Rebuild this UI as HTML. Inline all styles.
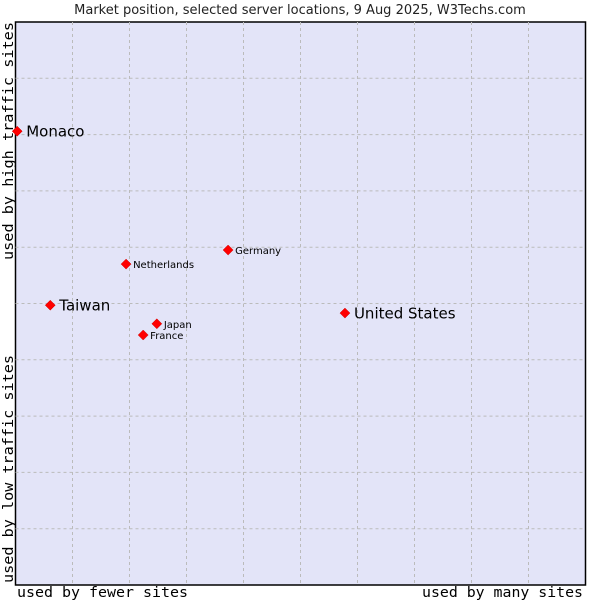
<!DOCTYPE html>
<html><head><meta charset="utf-8"><style>
body{margin:0;background:#fff;width:600px;height:600px;overflow:hidden}
svg{display:block}
</style></head><body>
<svg id="chart" width="600" height="600" xmlns="http://www.w3.org/2000/svg">
<text x="300" y="14" text-anchor="middle" font-family="DejaVu Sans, sans-serif" font-size="13" fill="#222">Market position, selected server locations, 9 Aug 2025, W3Techs.com</text>
<rect x="15.5" y="22" width="570" height="563" fill="#e3e4f8" stroke="#000" stroke-width="1.5"/>
<g id="grid"></g>
<g id="points"></g>
<text x="17" y="597" textLength="171" lengthAdjust="spacingAndGlyphs" font-family="DejaVu Sans Mono, monospace" font-size="14.5" fill="#000">used by fewer sites</text>
<text x="422" y="597" textLength="161" lengthAdjust="spacingAndGlyphs" font-family="DejaVu Sans Mono, monospace" font-size="14.5" fill="#000">used by many sites</text>
<text transform="translate(13,583) rotate(-90)" textLength="228" lengthAdjust="spacingAndGlyphs" font-family="DejaVu Sans Mono, monospace" font-size="14.5" fill="#000">used by low traffic sites</text>
<text transform="translate(13,260) rotate(-90)" textLength="238" lengthAdjust="spacingAndGlyphs" font-family="DejaVu Sans Mono, monospace" font-size="14.5" fill="#000">used by high traffic sites</text>
</svg>
<script>
const countries=["Monaco","Taiwan","United States","Netherlands","Germany","Japan","France"];
const xValues=[0.3,6.1,57.8,19.4,37.3,24.8,22.4];
const yValues=[80.6,49.7,48.3,57.0,59.5,46.4,44.4];
const bigLabel=[true,true,true,false,false,false,false];
const gridTicks=[10,20,30,40,50,60,70,80,90];
const L=15.5,R=585.5,T=22,B=585;
const xs=v=>L+(R-L)*v/100, ys=v=>B-(B-T)*v/100;
const NS="http://www.w3.org/2000/svg";
const grid=document.getElementById('grid'), pts=document.getElementById('points');
gridTicks.forEach(t=>{
 let v=document.createElementNS(NS,'line');
 v.setAttribute('x1',xs(t));v.setAttribute('x2',xs(t));v.setAttribute('y1',T);v.setAttribute('y2',B);
 v.setAttribute('stroke','#bbb');v.setAttribute('stroke-dasharray','3,3');
 
 
 grid.appendChild(v);
 let h=document.createElementNS(NS,'line');
 h.setAttribute('y1',ys(t));h.setAttribute('y2',ys(t));h.setAttribute('x1',L);h.setAttribute('x2',R);
 h.setAttribute('stroke','#bbb');h.setAttribute('stroke-dasharray','3,3');
 
 
 grid.appendChild(h);
});
countries.forEach((c,i)=>{
 const x=xs(xValues[i]),y=ys(yValues[i]);
 let p=document.createElementNS(NS,'polygon');
 p.setAttribute('points',`${x},${y-5} ${x+5},${y} ${x},${y+5} ${x-5},${y}`);
 p.setAttribute('fill','#f00');p.setAttribute('stroke','#c00');p.setAttribute('stroke-width','0.5');
 
 
 pts.appendChild(p);
 let t=document.createElementNS(NS,'text');
 const big=bigLabel[i];
 t.setAttribute('x',x+(big?9:7));t.setAttribute('y',y+(big?5.5:4));
 t.setAttribute('font-family','DejaVu Sans, sans-serif');
 t.setAttribute('font-size',big?15:10);t.setAttribute('fill','#000');
 t.textContent=c;
 
 
 pts.appendChild(t);
});
</script>
</body></html>
